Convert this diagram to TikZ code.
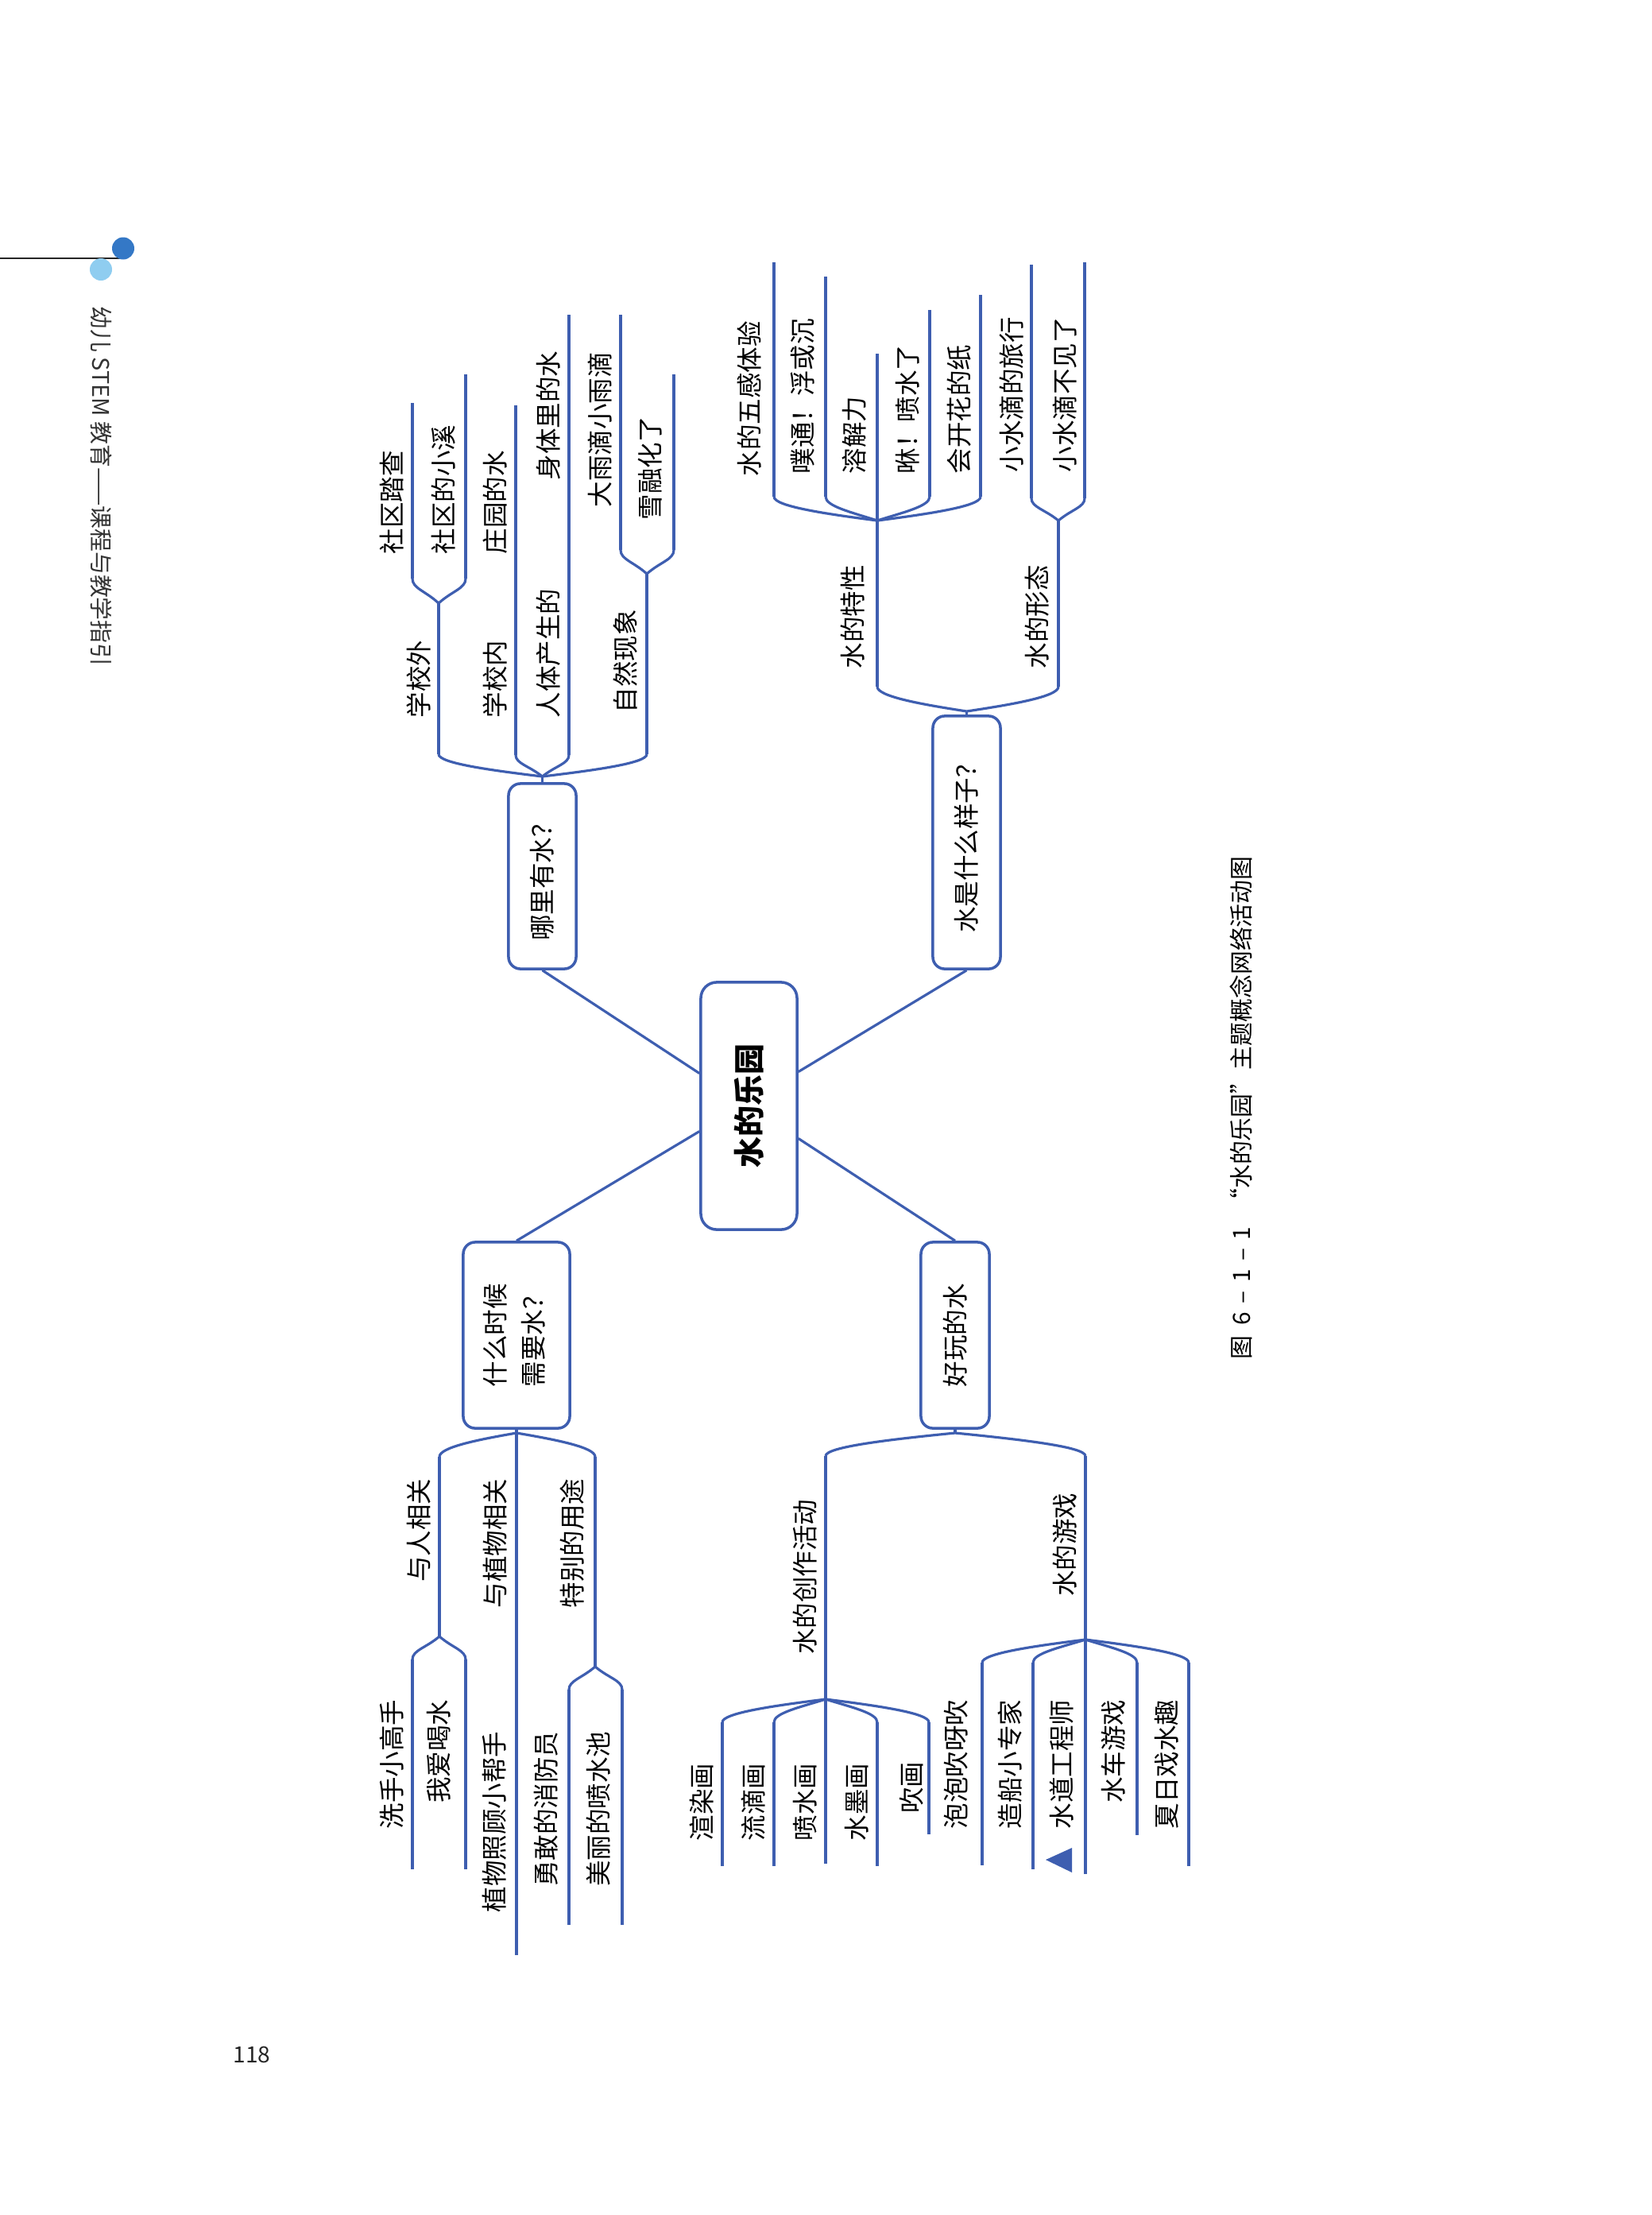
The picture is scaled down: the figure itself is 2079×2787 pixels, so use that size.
\documentclass[tikz,border=0pt]{standalone}
\usepackage{fontspec}
\usepackage{graphicx}
\setmainfont{Noto Sans CJK SC}
\usetikzlibrary{calc}
\definecolor{linec}{RGB}{62,94,176}
\definecolor{dotdark}{RGB}{52,120,198}
\definecolor{dotlight}{RGB}{143,205,240}
\newcommand\labfont{\fontsize{9.25}{13.7}\selectfont}
\newcommand\bracketcurve[4]{\draw[ln] let \p1=(#1), \p2=(#2) in (\p1) .. controls ({\x1+#3*(\x2-\x1)},{\y1+#4*(\y2-\y1)}) and ({\x2},{\y1+0.6*(\y2-\y1)}) .. (\p2);}
\begin{document}
\begin{tikzpicture}[x=0.01cm,y=-0.01cm,
  ln/.style={draw=linec, line width=0.9pt},
  box/.style={draw=linec, line width=1pt, rounded corners=0.15cm, inner sep=0pt, fill=white},
  lab/.style={font=\labfont, rotate=90, inner sep=0pt, text height=8.1pt, text depth=1.15pt},
  labU/.style={lab, anchor=west},
  labD/.style={lab, anchor=east}]
\fill[white] (0,0) rectangle (2079,2787);
\useasboundingbox (0,0) rectangle (2079,2787);

% header
\coordinate (hl0) at (0,325);
\coordinate (hl1) at (155,325);
\draw[line width=0.4pt, black!85] (hl0) -- (hl1);
\fill[dotdark] (155,312.5) circle (14);
\fill[dotlight] (127,339) circle (14);
\node[rotate=-90, inner sep=0pt, font=\fontsize{8.2}{10}\selectfont, text=black!80] (hdr) at (128,612) {幼儿 STEM 教育——课程与教学指引};
\node[inner sep=0pt, font=\fontsize{8}{10}\selectfont, text=black!85] (pgno) at (317,2585) {118};

% caption
\node[rotate=90, inner sep=0pt, font=\fontsize{8.5}{10}\selectfont] (cap) at (1562,1394) {图\hspace{0.45em}6\hspace{0.35em}–\hspace{0.35em}1\hspace{0.35em}–\hspace{0.35em}1\hspace{0.6em}“水的乐园”主题概念网络活动图};

% center and first-level boxes
\node[box, rounded corners=0.2cm, minimum width=1.21cm, minimum height=3.11cm] (c) at (942.5,1391.5) {\rotatebox{90}{\fontsize{11.1}{13}\selectfont\bfseries 水的乐园}};
\node[box, minimum width=0.85cm, minimum height=2.33cm] (nA) at (682.5,1102.5) {\rotatebox{90}{\labfont 哪里有水？}};
\node[box, minimum width=0.85cm, minimum height=3.18cm] (nB) at (1216.5,1060) {\rotatebox{90}{\labfont 水是什么样子？}};
\node[box, minimum width=1.34cm, minimum height=2.34cm] (nC) at (650,1680) {\rotatebox{90}{\labfont\begin{tabular}{@{}l@{}}什么时候\\需要水？\end{tabular}}};
\node[box, minimum width=0.86cm, minimum height=2.34cm] (nD) at (1202,1680) {\rotatebox{90}{\labfont 好玩的水}};

\draw[ln] ($(c.west)+(0,-41)$) -- (nA.south);
\draw[ln] ($(c.east)+(0,-43)$) -- (nB.south);
\draw[ln] ($(c.west)+(0,32)$) -- (nC.north);
\draw[ln] ($(c.east)+(0,41)$) -- (nD.north);

% ---------- top-left: 哪里有水
\coordinate (pkA) at (682.5,977);
\draw[ln] (nA.north) -- (pkA);
\coordinate (A1a) at (552,949); \coordinate (A1p) at (552,759);
\bracketcurve{pkA}{A1a}{0.5}{0.28} \draw[ln] (A1a) -- (A1p);
\coordinate (A11a) at (519,728); \coordinate (A11e) at (519,507);
\bracketcurve{A1p}{A11a}{0.5}{0.5} \draw[ln] (A11a) -- (A11e);
\coordinate (A12a) at (586,728); \coordinate (A12e) at (586,471);
\bracketcurve{A1p}{A12a}{0.5}{0.5} \draw[ln] (A12a) -- (A12e);
\coordinate (A2a) at (649,950); \coordinate (A2e) at (649,510);
\bracketcurve{pkA}{A2a}{0.5}{0.5} \draw[ln] (A2a) -- (A2e);
\coordinate (A3a) at (716,950); \coordinate (A3e) at (716,396);
\bracketcurve{pkA}{A3a}{0.5}{0.5} \draw[ln] (A3a) -- (A3e);
\coordinate (A4a) at (814,949); \coordinate (A4p) at (814,722);
\bracketcurve{pkA}{A4a}{0.5}{0.28} \draw[ln] (A4a) -- (A4p);
\coordinate (A41a) at (781,692); \coordinate (A41e) at (781,396);
\bracketcurve{A4p}{A41a}{0.5}{0.5} \draw[ln] (A41a) -- (A41e);
\coordinate (A42a) at (848,692); \coordinate (A42e) at (848,471);
\bracketcurve{A4p}{A42a}{0.5}{0.5} \draw[ln] (A42a) -- (A42e);

\node[labU] (tA1) at (527,904) {学校外};
\node[labU] (tA2) at (623,904) {学校内};
\node[labU] (tA3) at (690,904) {人体产生的};
\node[labU] (tA4) at (787,898) {自然现象};
\node[labU] (tA11) at (493,698) {社区踏查};
\node[labU] (tA12) at (558,698) {社区的小溪};
\node[labU] (tA21) at (623,698) {庄园的水};
\node[labU] (tA31) at (690,605) {身体里的水};
\node[labU] (tA41) at (755,639) {大雨滴小雨滴};
\node[labU] (tA42) at (818,655) {雪融化了};

% ---------- top-right: 水是什么样子
\coordinate (pkB) at (1216.5,895);
\draw[ln] (nB.north) -- (pkB);
\coordinate (B1a) at (1104,864); \coordinate (B1p) at (1104,655); \coordinate (B13e) at (1104,445);
\bracketcurve{pkB}{B1a}{0.5}{0.28} \draw[ln] (B1a) -- (B1p) -- (B13e);
\coordinate (B11a) at (974,625); \coordinate (B11e) at (974,330);
\bracketcurve{B1p}{B11a}{0.5}{0.28} \draw[ln] (B11a) -- (B11e);
\coordinate (B12a) at (1039,625); \coordinate (B12e) at (1039,348);
\bracketcurve{B1p}{B12a}{0.5}{0.35} \draw[ln] (B12a) -- (B12e);
\coordinate (B14a) at (1170,625); \coordinate (B14e) at (1170,390);
\bracketcurve{B1p}{B14a}{0.5}{0.35} \draw[ln] (B14a) -- (B14e);
\coordinate (B15a) at (1234,625); \coordinate (B15e) at (1234,371);
\bracketcurve{B1p}{B15a}{0.5}{0.28} \draw[ln] (B15a) -- (B15e);
\coordinate (B2a) at (1332,864); \coordinate (B2p) at (1332,655);
\bracketcurve{pkB}{B2a}{0.5}{0.28} \draw[ln] (B2a) -- (B2p);
\coordinate (B21a) at (1298,627); \coordinate (B21e) at (1298,333);
\bracketcurve{B2p}{B21a}{0.5}{0.5} \draw[ln] (B21a) -- (B21e);
\coordinate (B22a) at (1365,627); \coordinate (B22e) at (1365,330);
\bracketcurve{B2p}{B22a}{0.5}{0.5} \draw[ln] (B22a) -- (B22e);

\node[labU] (tB1) at (1073,842) {水的特性};
\node[labU] (tB2) at (1305,842) {水的形态};
\node[labU] (tB11) at (943,600) {水的五感体验};
\node[labU] (tB12) at (1010,597) {噗通！浮或沉};
\node[labU] (tB13) at (1075,597) {溶解力};
\node[labU] (tB14) at (1142,597) {咻！喷水了};
\node[labU] (tB15) at (1207,597) {会开花的纸};
\node[labU] (tB21) at (1273,595) {小水滴的旅行};
\node[labU] (tB22) at (1340,595) {小水滴不见了};

% ---------- bottom-left: 什么时候需要水
\coordinate (pkC) at (650,1803);
\draw[ln] (nC.south) -- (pkC);
\coordinate (C1a) at (553,1833); \coordinate (C1p) at (553,2059);
\bracketcurve{pkC}{C1a}{0.5}{0.28} \draw[ln] (C1a) -- (C1p);
\coordinate (C2e) at (650,2460);
\draw[ln] (pkC) -- (C2e);
\coordinate (C3a) at (749,1833); \coordinate (C3p) at (749,2097);
\bracketcurve{pkC}{C3a}{0.5}{0.28} \draw[ln] (C3a) -- (C3p);
\coordinate (C11a) at (519,2088); \coordinate (C11e) at (519,2352);
\bracketcurve{C1p}{C11a}{0.5}{0.5} \draw[ln] (C11a) -- (C11e);
\coordinate (C12a) at (586,2088); \coordinate (C12e) at (586,2352);
\bracketcurve{C1p}{C12a}{0.5}{0.5} \draw[ln] (C12a) -- (C12e);
\coordinate (C31a) at (716,2126); \coordinate (C31e) at (716,2422);
\bracketcurve{C3p}{C31a}{0.5}{0.5} \draw[ln] (C31a) -- (C31e);
\coordinate (C32a) at (783,2126); \coordinate (C32e) at (783,2422);
\bracketcurve{C3p}{C32a}{0.5}{0.5} \draw[ln] (C32a) -- (C32e);

\node[labD] (tC1) at (527,1860) {与人相关};
\node[labD] (tC2) at (623,1860) {与植物相关};
\node[labD] (tC3) at (720,1860) {特别的用途};
\node[labD] (tC11) at (493,2138) {洗手小高手};
\node[labD] (tC12) at (552,2138) {我爱喝水};
\node[labD] (tC21) at (622,2178) {植物照顾小帮手};
\node[labD] (tC31) at (687,2178) {勇敢的消防员};
\node[labD] (tC32) at (753,2178) {美丽的喷水池};

% ---------- bottom-right: 好玩的水
\coordinate (pkD) at (1202,1803);
\draw[ln] (nD.south) -- (pkD);
\coordinate (D1a) at (1039,1832); \coordinate (D1p) at (1039,2138); \coordinate (D13e) at (1039,2345);
\bracketcurve{pkD}{D1a}{0.5}{0.28} \draw[ln] (D1a) -- (D1p) -- (D13e);
\coordinate (D2a) at (1366,1832); \coordinate (D2p) at (1366,2063); \coordinate (D23e) at (1366,2358);
\bracketcurve{pkD}{D2a}{0.5}{0.28} \draw[ln] (D2a) -- (D2p) -- (D23e);
\coordinate (D11a) at (909,2167); \coordinate (D11e) at (909,2348);
\bracketcurve{D1p}{D11a}{0.5}{0.28} \draw[ln] (D11a) -- (D11e);
\coordinate (D12a) at (974,2167); \coordinate (D12e) at (974,2348);
\bracketcurve{D1p}{D12a}{0.5}{0.35} \draw[ln] (D12a) -- (D12e);
\coordinate (D14a) at (1104,2167); \coordinate (D14e) at (1104,2348);
\bracketcurve{D1p}{D14a}{0.5}{0.35} \draw[ln] (D14a) -- (D14e);
\coordinate (D15a) at (1169,2167); \coordinate (D15e) at (1169,2308);
\bracketcurve{D1p}{D15a}{0.5}{0.28} \draw[ln] (D15a) -- (D15e);
\coordinate (D21a) at (1236,2092); \coordinate (D21e) at (1236,2347);
\bracketcurve{D2p}{D21a}{0.5}{0.28} \draw[ln] (D21a) -- (D21e);
\coordinate (D22a) at (1300,2092); \coordinate (D22e) at (1300,2352);
\bracketcurve{D2p}{D22a}{0.5}{0.35} \draw[ln] (D22a) -- (D22e);
\coordinate (D24a) at (1431,2092); \coordinate (D24e) at (1431,2309);
\bracketcurve{D2p}{D24a}{0.5}{0.35} \draw[ln] (D24a) -- (D24e);
\coordinate (D25a) at (1496,2092); \coordinate (D25e) at (1496,2348);
\bracketcurve{D2p}{D25a}{0.5}{0.28} \draw[ln] (D25a) -- (D25e);

\fill[linec] (1316,2340) -- (1349,2325) -- (1349,2356) -- cycle;

\node[labD] (tD1) at (1013,1886) {水的创作活动};
\node[labD] (tD2) at (1340,1878) {水的游戏};
\node[labD] (tD11) at (883,2218) {渲染画};
\node[labD] (tD12) at (948,2218) {流滴画};
\node[labD] (tD13) at (1013,2218) {喷水画};
\node[labD] (tD14) at (1078,2218) {水墨画};
\node[labD] (tD15) at (1147,2216) {吹画};
\node[labD] (tD21) at (1203,2138) {泡泡吹呀吹};
\node[labD] (tD22) at (1271,2138) {造船小专家};
\node[labD] (tD23) at (1336,2138) {水道工程师};
\node[labD] (tD24) at (1401,2138) {水车游戏};
\node[labD] (tD25) at (1468,2138) {夏日戏水趣};
\end{tikzpicture}
\end{document}
